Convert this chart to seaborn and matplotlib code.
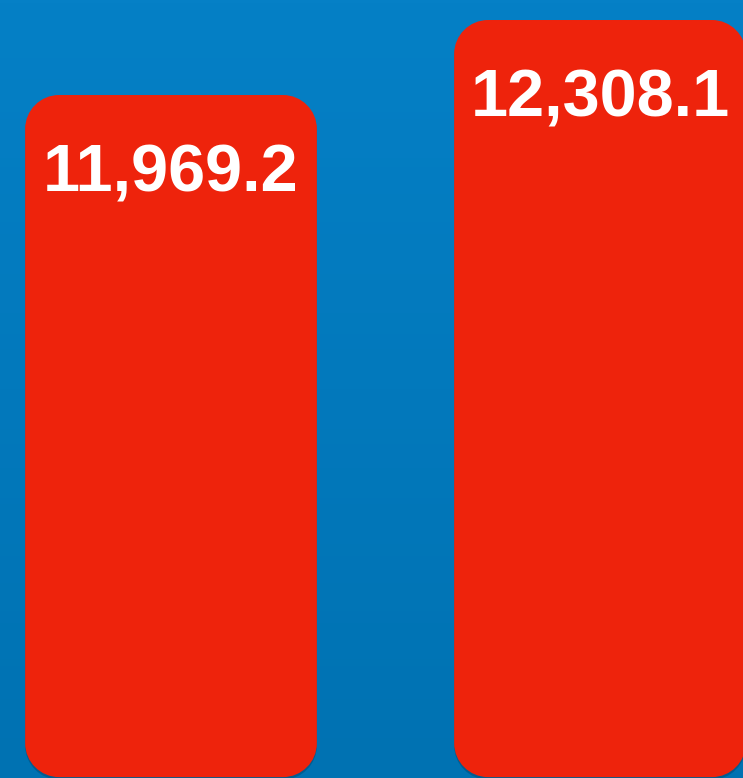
import numpy as np
import pandas as pd
import matplotlib
matplotlib.use("Agg")
import matplotlib.pyplot as plt
import seaborn as sns
from matplotlib.patches import PathPatch
from matplotlib.path import Path
from matplotlib.colors import LinearSegmentedColormap
from matplotlib.transforms import IdentityTransform

# Data
categories = ["A", "B"]
values = [11969.2, 12308.1]
labels = ["11,969.2", "12,308.1"]

BAR_COLOR = "#EE230C"
BG_TOP = "#0580C6"
BG_BOTTOM = "#0072B2"

sns.set_theme(style="white")
plt.rcParams["font.family"] = ["Liberation Sans", "DejaVu Sans"]

df = pd.DataFrame({"cat": categories, "val": values})

fig = plt.figure(figsize=(7.43, 7.78), dpi=100)
ax = fig.add_axes([0, 0, 1, 1])

sns.barplot(data=df, x="cat", y="val", color=BAR_COLOR, width=0.68,
            saturation=1, ax=ax)

# axis ranges (truncated value axis)
xlim = (-0.3986, 1.3333)
ylim = (8883.0, 12398.5)
ax.set_xlim(*xlim)
ax.set_ylim(*ylim)
baseline = 8887.0

# background gradient
grad = np.linspace(0, 1, 256).reshape(-1, 1)
cmap = LinearSegmentedColormap.from_list("bg", [BG_TOP, BG_BOTTOM])
ax.imshow(grad, cmap=cmap, aspect="auto", extent=[xlim[0], xlim[1], ylim[0], ylim[1]],
          origin="upper", zorder=0)
ax.set_axis_off()


def rounded_rect_path(x0, y0, x1, y1, r):
    k = 0.5523 * r
    verts = [
        (x0 + r, y0),
        (x1 - r, y0),
        (x1 - r + k, y0), (x1, y0 + r - k), (x1, y0 + r),
        (x1, y1 - r),
        (x1, y1 - r + k), (x1 - r + k, y1), (x1 - r, y1),
        (x0 + r, y1),
        (x0 + r - k, y1), (x0, y1 - r + k), (x0, y1 - r),
        (x0, y0 + r),
        (x0, y0 + r - k), (x0 + r - k, y0), (x0 + r, y0),
        (x0 + r, y0),
    ]
    codes = [Path.MOVETO, Path.LINETO,
             Path.CURVE4, Path.CURVE4, Path.CURVE4,
             Path.LINETO,
             Path.CURVE4, Path.CURVE4, Path.CURVE4,
             Path.LINETO,
             Path.CURVE4, Path.CURVE4, Path.CURVE4,
             Path.LINETO,
             Path.CURVE4, Path.CURVE4, Path.CURVE4,
             Path.CLOSEPOLY]
    return Path(verts, codes)


fig.canvas.draw()
radius_px = 34

bars = list(ax.patches)
for p, lab in zip(bars, labels):
    x0 = p.get_x()
    w = p.get_width()
    top = p.get_height()
    p.remove()
    (px0, py0) = ax.transData.transform((x0, baseline))
    (px1, py1) = ax.transData.transform((x0 + w, top))
    sh = PathPatch(rounded_rect_path(px0, py0 - 2.5, px1, py1 - 2.5, radius_px),
                   facecolor="black", alpha=0.18, edgecolor="none",
                   zorder=2, transform=IdentityTransform())
    ax.add_artist(sh)
    fb = PathPatch(rounded_rect_path(px0, py0, px1, py1, radius_px),
                   facecolor=BAR_COLOR, edgecolor="none",
                   zorder=3, transform=IdentityTransform())
    ax.add_artist(fb)
    ax.annotate(lab, xy=(x0 + w / 2, top), xytext=(0, -35),
                textcoords="offset points", ha="center", va="top",
                color="white", fontsize=48, fontweight="bold", zorder=4)

fig.savefig("out.png", dpi=100)
